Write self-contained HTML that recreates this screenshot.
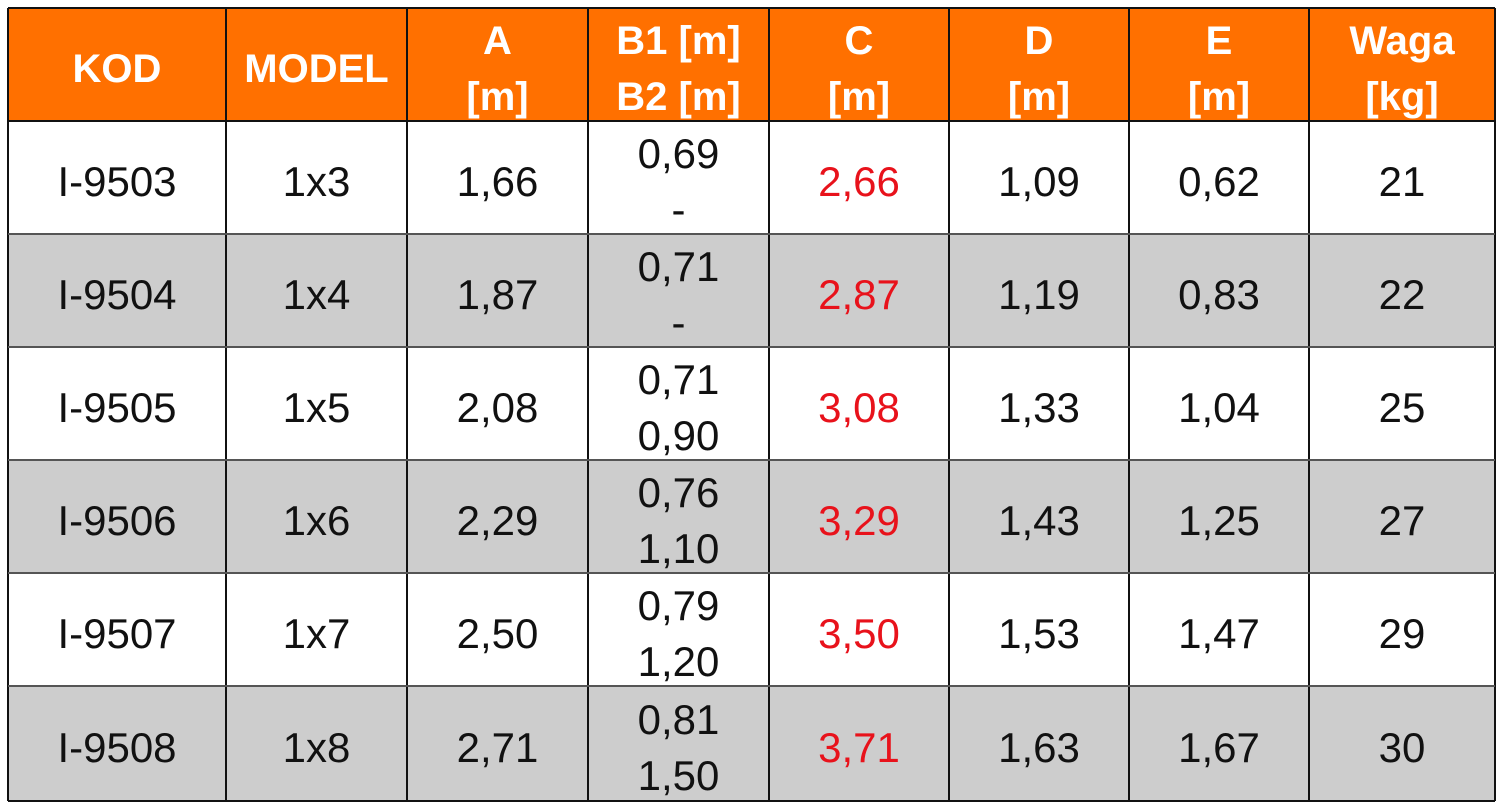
<!DOCTYPE html>
<html><head><meta charset="utf-8"><style>
body{margin:0;width:1500px;height:808px;background:#fff;position:relative;overflow:hidden;font-family:"Liberation Sans",Arial,sans-serif}
.c{position:absolute;display:flex;flex-direction:column;align-items:center;justify-content:center;text-align:center;box-sizing:border-box;padding-top:8px}
.h{background:#ff7000;color:#fff;font-weight:bold;font-size:40px;line-height:56px}
.b{font-size:42px;line-height:56px;color:#111}
.r{color:#e8121b}
.vl{position:absolute;top:8px;height:793px;width:2px;background:#111}
.hl{position:absolute;left:8px;width:1487px;height:2px;background:#333}
</style></head><body>
<div id="t"></div>
<script>
const xs=[8,226,407,588,769,949,1129,1309,1495];
const ys=[8,121,234,347,460,573,686,801];
const head=["KOD","MODEL","A<br>[m]","B1 [m]<br>B2 [m]","C<br>[m]","D<br>[m]","E<br>[m]","Waga<br>[kg]"];
const rows=[
["I-9503","1x3","1,66","0,69<br>-","2,66","1,09","0,62","21"],
["I-9504","1x4","1,87","0,71<br>-","2,87","1,19","0,83","22"],
["I-9505","1x5","2,08","0,71<br>0,90","3,08","1,33","1,04","25"],
["I-9506","1x6","2,29","0,76<br>1,10","3,29","1,43","1,25","27"],
["I-9507","1x7","2,50","0,79<br>1,20","3,50","1,53","1,47","29"],
["I-9508","1x8","2,71","0,81<br>1,50","3,71","1,63","1,67","30"]];
let h="";
for(let r=0;r<7;r++){
 const bg=r==0?"":(r%2==0?"#cdcdcd":"#fff");
 for(let c=0;c<8;c++){
  const txt=r==0?head[c]:rows[r-1][c];
  const cls=r==0?"c h":"c b"+(c==4?" r":"");
  h+=`<div class="${cls}" style="left:${xs[c]}px;top:${ys[r]}px;width:${xs[c+1]-xs[c]}px;height:${ys[r+1]-ys[r]}px;${r?'background:'+bg:''}">${txt}</div>`;
 }
}
for(const x of xs)h+=`<div class="vl" style="left:${x-1}px"></div>`;
ys.forEach((y,i)=>h+=`<div class="hl" style="top:${y-1}px;${(i==0||i==1||i==7)?'background:#111':'background:#555'}"></div>`);
document.getElementById("t").innerHTML=h;
</script>
</body></html>
